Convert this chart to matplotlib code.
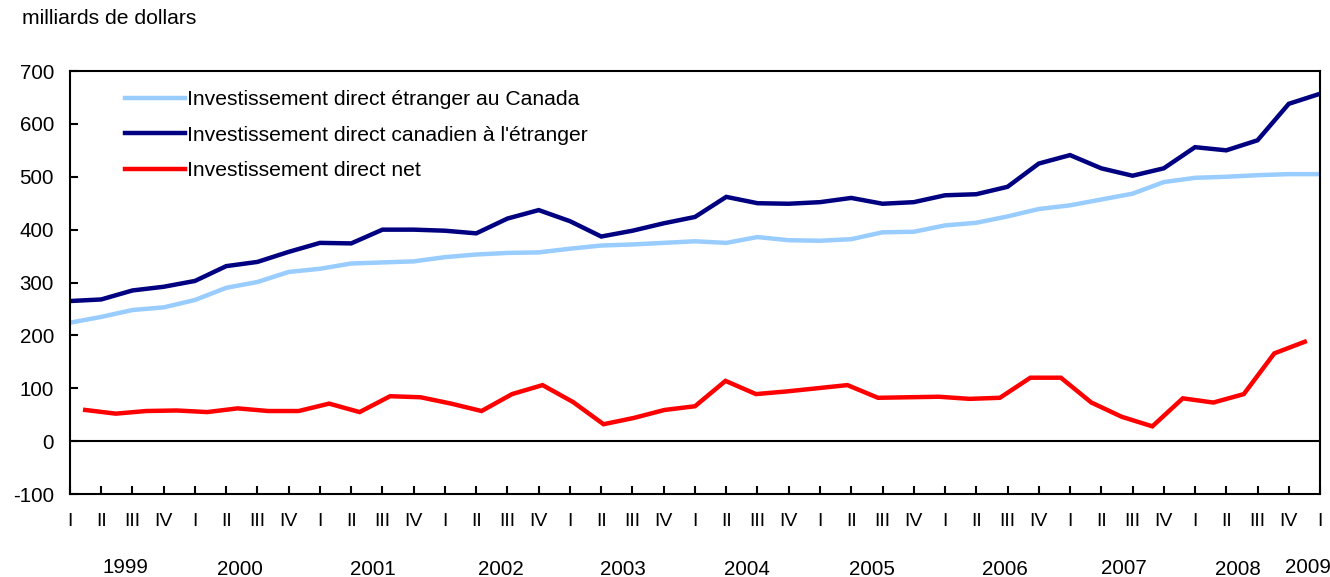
import numpy as np
import matplotlib
matplotlib.use('Agg')
import matplotlib.pyplot as plt

plt.rcParams['font.family'] = ['Liberation Sans', 'DejaVu Sans']
plt.rcParams['axes.unicode_minus'] = False

# quarters 1999 Q1 .. 2009 Q1
quarter_labels = ['I', 'II', 'III', 'IV'] * 10 + ['I']
years = ['1999', '2000', '2001', '2002', '2003', '2004', '2005', '2006', '2007', '2008', '2009']

# milliards de dollars
ide_au_canada = [224, 235, 248, 253, 267, 290, 301, 320, 326, 336,
                 338, 340, 348, 353, 356, 357, 364, 370, 372, 375,
                 378, 375, 386, 380, 379, 382, 395, 396, 408, 413,
                 425, 439, 446, 457, 468, 490, 498, 500, 503, 505, 505]
idc_etranger = [265, 268, 285, 292, 303, 331, 339, 358, 375, 374,
                400, 400, 398, 393, 421, 437, 416, 387, 398, 412,
                424, 462, 450, 449, 452, 460, 449, 452, 465, 467,
                481, 525, 541, 516, 502, 516, 556, 550, 569, 638, 657]
id_net = [59, 52, 57, 58, 55, 62, 57, 57, 71, 55,
          85, 83, 71, 57, 89, 106, 74, 32, 44, 59,
          66, 114, 89, 94, 100, 106, 82, 83, 84, 80,
          82, 120, 120, 73, 46, 28, 81, 73, 89, 166, 188]

# where the year labels sit (in quarter units) and their baseline (axes fraction)
year_pos = [1.78, 5.45, 9.69, 13.8, 17.7, 21.66, 25.67, 29.9, 33.72, 37.38, 39.6]
year_y = [-0.187, -0.1915, -0.1915, -0.1915, -0.1915, -0.1915, -0.1915, -0.1915, -0.190, -0.1925, -0.1856]

light_blue = '#99CCFF'
navy = '#000080'
red = '#FF0000'

fig = plt.figure(figsize=(13.3, 5.77), dpi=100)
ax = fig.add_axes([0.0526, 0.1438, 0.9399, 0.7331])

x = np.arange(len(ide_au_canada))
l1, = ax.plot(x, ide_au_canada, color=light_blue, lw=3.2, solid_joinstyle='miter',
              label='Investissement direct étranger au Canada')
l2, = ax.plot(x, idc_etranger, color=navy, lw=3.2, solid_joinstyle='miter',
              label="Investissement direct canadien à l'étranger")

# net series sits on a second category axis (points between tick marks)
ax2 = ax.twiny()
l3, = ax2.plot(np.arange(len(id_net)), id_net, color=red, lw=3.2, solid_joinstyle='miter',
               label='Investissement direct net')
ax2.set_xlim(-0.5, len(id_net) - 0.5)
ax2.xaxis.set_visible(False)
for s in ax2.spines.values():
    s.set_visible(False)

ax.set_xlim(0, len(x) - 1)
ax.set_ylim(-100, 700)
ax.set_yticks(range(-100, 701, 100))
ax.set_xticks(x)
ax.set_xticklabels(quarter_labels)
ax.axhline(0, color='black', lw=1.5, zorder=1)

for s in ax.spines.values():
    s.set_linewidth(1.5)
    s.set_color('black')
ax.tick_params(axis='y', direction='in', length=6, width=1.5, pad=11.5, labelsize=14.8)
ax.tick_params(axis='x', direction='in', length=6, width=1.5, pad=14, labelsize=14)

for yr, px, py in zip(years, year_pos, year_y):
    ax.text(px, py, yr, transform=ax.get_xaxis_transform(), ha='center', va='baseline',
            fontsize=14.8)

fig.text(22 / 1330, 1 - 18 / 577, 'milliards de dollars', ha='left', va='center', fontsize=15.2)

ax.legend(handles=[l1, l2, l3], loc='upper left', bbox_to_anchor=(0.044, 0.955),
          frameon=False, fontsize=15.2, handlelength=2.84, handletextpad=0.1,
          labelspacing=0.78, borderpad=0, borderaxespad=0)

fig.savefig('out.png', dpi=100)
